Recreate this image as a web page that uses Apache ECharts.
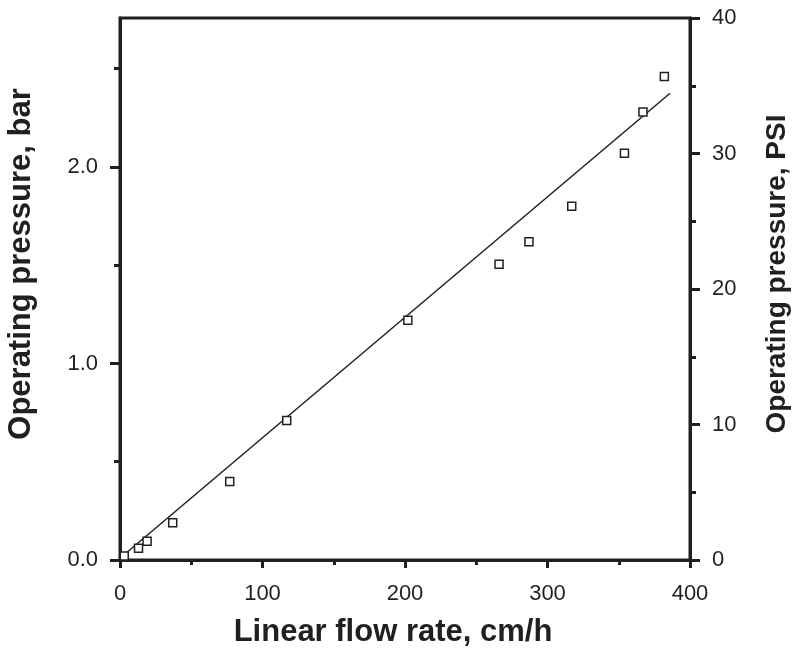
<!DOCTYPE html>
<html>
<head>
<meta charset="utf-8">
<script src="https://cdn.jsdelivr.net/npm/echarts@6/dist/echarts.min.js"></script>
<style>
html,body{margin:0;padding:0;background:#fff;}
#chart{width:799px;height:649px;}
</style>
</head>
<body>
<div id="chart"></div>
<script>
// Measured data (linear flow rate, cm/h vs operating pressure, bar)
var flowRate = [3, 13, 19, 37, 77, 117, 202, 266, 287, 317, 354, 367, 382];
var pressureBar = [0.02, 0.06, 0.095, 0.19, 0.40, 0.71, 1.22, 1.505, 1.62, 1.80, 2.07, 2.28, 2.46];
// Fitted line end points
var fitX = [1, 386];
var fitY = [0.015, 2.375];
// Axis ticks
var xTicks = [0, 100, 200, 300, 400];
var barLabels = [0, 1, 2];
var barMinor = [0, 0.5, 1, 1.5, 2, 2.5];
var psiTicks = [0, 10, 20, 30, 40];
var PSI_PER_BAR = 14.5038;
var PSI_MAX = 40;
var BAR_MAX = PSI_MAX / PSI_PER_BAR;

var ink = '#231f20';
var font = '"Liberation Sans", Arial, Helvetica, sans-serif';

var chart = echarts.init(document.getElementById('chart'), null, {renderer: 'canvas'});

var scatterData = flowRate.map(function (x, i) { return [x, pressureBar[i]]; });
var fitData = fitX.map(function (x, i) { return [x, fitY[i]]; });

var option = {
  animation: false,
  backgroundColor: '#fff',
  grid: {
    left: 120, right: 109, top: 18, bottom: 89,
    show: true, borderColor: ink, borderWidth: 3, backgroundColor: 'transparent'
  },
  xAxis: {
    type: 'value', min: xTicks[0], max: xTicks[xTicks.length - 1], interval: 100,
    axisLine: {show: true, onZero: false, lineStyle: {color: ink, width: 3}},
    axisTick: {show: true, inside: false, length: 8, lineStyle: {color: ink, width: 3}},
    minorTick: {show: true, splitNumber: 2, length: 5, lineStyle: {color: ink, width: 3}},
    axisLabel: {show: true, margin: 23, color: ink, fontSize: 22, fontFamily: font},
    splitLine: {show: false}
  },
  yAxis: [
    {
      type: 'value', position: 'left', min: 0, max: BAR_MAX,
      axisLine: {show: true, onZero: false, lineStyle: {color: ink, width: 3}},
      axisTick: {show: true, inside: false, length: 6, customValues: barMinor, lineStyle: {color: ink, width: 3}},
      axisLabel: {show: false},
      splitLine: {show: false}
    },
    {
      type: 'value', position: 'left', offset: 0, min: 0, max: BAR_MAX,
      axisLine: {show: false},
      axisTick: {show: true, inside: false, length: 10, customValues: barLabels, lineStyle: {color: ink, width: 3}},
      axisLabel: {show: true, customValues: barLabels, margin: 22, color: ink, fontSize: 22, fontFamily: font,
        formatter: function (v) { return v.toFixed(1); }},
      splitLine: {show: false}
    },
    {
      type: 'value', position: 'right', min: 0, max: PSI_MAX, interval: 10,
      axisLine: {show: true, onZero: false, lineStyle: {color: ink, width: 3}},
      axisTick: {show: true, inside: false, length: 10, lineStyle: {color: ink, width: 3}},
      minorTick: {show: true, splitNumber: 2, length: 6, lineStyle: {color: ink, width: 3}},
      axisLabel: {show: true, margin: 22, color: ink, fontSize: 22, fontFamily: font},
      splitLine: {show: false}
    }
  ],
  series: [
    {
      type: 'line', xAxisIndex: 0, yAxisIndex: 0, data: fitData,
      symbol: 'none', lineStyle: {color: ink, width: 1.5}, z: 2, silent: true
    },
    {
      type: 'scatter', xAxisIndex: 0, yAxisIndex: 0, data: scatterData,
      symbol: 'rect', symbolSize: 8,
      itemStyle: {color: '#fff', borderColor: ink, borderWidth: 1.5, opacity: 1}, z: 3
    }
  ],
  graphic: [
    {
      type: 'text', x: 21, y: 264, rotation: Math.PI / 2,
      style: {text: 'Operating pressure, bar', fill: ink, font: 'bold 31px ' + font,
        textAlign: 'center', textVerticalAlign: 'middle'}
    },
    {
      type: 'text', x: 777, y: 274, rotation: Math.PI / 2,
      style: {text: 'Operating pressure, PSI', fill: ink, font: 'bold 28px ' + font,
        textAlign: 'center', textVerticalAlign: 'middle'}
    },
    {
      type: 'text', x: 393, y: 632,
      style: {text: 'Linear flow rate, cm/h', fill: ink, font: 'bold 31px ' + font,
        textAlign: 'center', textVerticalAlign: 'middle'}
    }
  ]
};
chart.setOption(option);
</script>
</body>
</html>
